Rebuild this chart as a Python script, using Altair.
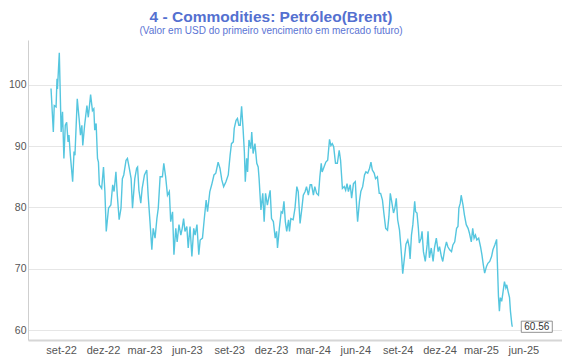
import altair as alt
import pandas as pd

# ---- data ----
dates = [
    "2022-08-10", "2022-08-15", "2022-08-17", "2022-08-21", "2022-08-23", "2022-08-24", "2022-08-28",
    "2022-09-01", "2022-09-04", "2022-09-07", "2022-09-10", "2022-09-13", "2022-09-16", "2022-09-18",
    "2022-09-21", "2022-09-26", "2022-09-29", "2022-10-01", "2022-10-06", "2022-10-10", "2022-10-13",
    "2022-10-16", "2022-10-18", "2022-10-22", "2022-10-27", "2022-10-30", "2022-11-04", "2022-11-08",
    "2022-11-11", "2022-11-13", "2022-11-16", "2022-11-19", "2022-11-21", "2022-11-23", "2022-11-28",
    "2022-12-02", "2022-12-05", "2022-12-08", "2022-12-13", "2022-12-18", "2022-12-22", "2022-12-25",
    "2022-12-29", "2023-01-01", "2023-01-05", "2023-01-09", "2023-01-12", "2023-01-15", "2023-01-20",
    "2023-01-23", "2023-01-27", "2023-01-31", "2023-02-03", "2023-02-08", "2023-02-12", "2023-02-14",
    "2023-02-17", "2023-02-21", "2023-02-24", "2023-03-01", "2023-03-06", "2023-03-09", "2023-03-13",
    "2023-03-17", "2023-03-20", "2023-03-24", "2023-03-28", "2023-03-31", "2023-04-04", "2023-04-09",
    "2023-04-12", "2023-04-16", "2023-04-20", "2023-04-24", "2023-04-27", "2023-05-01", "2023-05-04",
    "2023-05-08", "2023-05-11", "2023-05-15", "2023-05-19", "2023-05-22", "2023-05-25", "2023-05-28",
    "2023-06-01", "2023-06-04", "2023-06-08", "2023-06-12", "2023-06-16", "2023-06-19", "2023-06-23",
    "2023-06-27", "2023-06-30", "2023-07-05", "2023-07-09", "2023-07-13", "2023-07-16", "2023-07-21",
    "2023-07-25", "2023-07-30", "2023-08-03", "2023-08-08", "2023-08-12", "2023-08-16", "2023-08-20",
    "2023-08-25", "2023-08-30", "2023-09-03", "2023-09-06", "2023-09-10", "2023-09-12", "2023-09-16",
    "2023-09-19", "2023-09-22", "2023-09-25", "2023-09-28", "2023-10-01", "2023-10-04", "2023-10-06",
    "2023-10-09", "2023-10-11", "2023-10-14", "2023-10-18", "2023-10-20", "2023-10-23", "2023-10-27",
    "2023-10-31", "2023-11-03", "2023-11-05", "2023-11-09", "2023-11-13", "2023-11-16", "2023-11-19",
    "2023-11-23", "2023-11-27", "2023-11-29", "2023-12-02", "2023-12-06", "2023-12-10", "2023-12-13",
    "2023-12-15", "2023-12-19", "2023-12-23", "2023-12-26", "2023-12-29", "2024-01-01", "2024-01-04",
    "2024-01-08", "2024-01-10", "2024-01-13", "2024-01-18", "2024-01-22", "2024-01-26", "2024-01-29",
    "2024-02-02", "2024-02-06", "2024-02-09", "2024-02-13", "2024-02-16", "2024-02-20", "2024-02-24",
    "2024-02-27", "2024-03-02", "2024-03-05", "2024-03-09", "2024-03-13", "2024-03-16", "2024-03-19",
    "2024-03-21", "2024-03-25", "2024-03-29", "2024-04-02", "2024-04-06", "2024-04-09", "2024-04-12",
    "2024-04-15", "2024-04-19", "2024-04-23", "2024-04-27", "2024-04-30", "2024-05-04", "2024-05-08",
    "2024-05-11", "2024-05-14", "2024-05-17", "2024-05-21", "2024-05-24", "2024-05-28", "2024-06-01",
    "2024-06-04", "2024-06-06", "2024-06-10", "2024-06-13", "2024-06-17", "2024-06-21", "2024-06-24",
    "2024-06-28", "2024-07-02", "2024-07-05", "2024-07-08", "2024-07-12", "2024-07-15", "2024-07-19",
    "2024-07-23", "2024-07-26", "2024-07-30", "2024-08-02", "2024-08-06", "2024-08-10", "2024-08-13",
    "2024-08-16", "2024-08-19", "2024-08-23", "2024-08-26", "2024-08-29", "2024-09-01", "2024-09-05",
    "2024-09-08", "2024-09-10", "2024-09-12", "2024-09-16", "2024-09-19", "2024-09-23", "2024-09-26",
    "2024-09-28", "2024-10-01", "2024-10-04", "2024-10-08", "2024-10-10", "2024-10-13", "2024-10-16",
    "2024-10-18", "2024-10-22", "2024-10-24", "2024-10-27", "2024-10-31", "2024-11-04", "2024-11-06",
    "2024-11-09", "2024-11-13", "2024-11-17", "2024-11-20", "2024-11-24", "2024-11-28", "2024-12-01",
    "2024-12-05", "2024-12-08", "2024-12-12", "2024-12-16", "2024-12-19", "2024-12-23", "2024-12-27",
    "2024-12-30", "2025-01-03", "2025-01-07", "2025-01-10", "2025-01-12", "2025-01-15", "2025-01-17",
    "2025-01-21", "2025-01-24", "2025-01-28", "2025-02-01", "2025-02-04", "2025-02-08", "2025-02-11",
    "2025-02-14", "2025-02-17", "2025-02-20", "2025-02-24", "2025-02-28", "2025-03-03", "2025-03-06",
    "2025-03-09", "2025-03-13", "2025-03-16", "2025-03-20", "2025-03-24", "2025-03-27", "2025-03-31",
    "2025-04-04", "2025-04-06", "2025-04-08", "2025-04-10", "2025-04-12", "2025-04-15", "2025-04-18",
    "2025-04-21", "2025-04-24", "2025-04-26", "2025-04-29", "2025-05-02", "2025-05-04", "2025-05-07",
    "2025-05-08",
]

values = [
    99.4, 92.3, 96.6, 96.4, 101.0, 99.3, 105.2,
    92.3, 95.6, 88.0, 93.4, 93.9, 90.7, 91.8,
    88.5, 84.2, 89.1, 88.5, 97.7, 94.5, 91.8,
    93.4, 90.1, 93.4, 96.6, 94.7, 98.4, 95.8,
    96.1, 92.6, 93.7, 88.0, 87.4, 83.7, 83.1,
    86.6, 82.6, 76.1, 79.9, 80.4, 83.7, 82.6,
    85.8, 82.0, 78.0, 79.9, 84.7, 85.3, 87.7,
    88.0, 86.4, 84.7, 79.9, 84.7, 86.4, 86.6,
    82.8, 80.7, 83.1, 85.3, 86.1, 82.0, 77.7,
    73.1, 76.6, 75.0, 78.2, 79.9, 85.0, 85.0,
    87.2, 85.0, 82.0, 82.6, 77.7, 79.3, 72.3,
    76.6, 74.4, 77.2, 75.5, 76.6, 78.2, 76.1,
    76.9, 73.4, 76.9, 72.0, 76.6, 75.5, 77.2,
    72.3, 74.7, 75.0, 78.2, 81.2, 79.3, 82.6,
    83.7, 85.3, 85.6, 87.4, 86.4, 84.5, 83.4,
    84.2, 85.3, 88.5, 90.4, 90.7, 92.9, 94.2,
    94.5, 93.4, 93.4, 96.5, 93.1, 89.1, 84.2,
    88.0, 85.8, 91.0, 89.6, 92.3, 88.8, 90.4,
    87.2, 86.6, 84.7, 79.6, 82.3, 77.7, 82.3,
    80.4, 82.0, 82.8, 78.2, 77.7, 75.0, 76.1,
    73.4, 76.6, 79.3, 79.1, 81.0, 77.7, 76.1,
    78.0, 76.1, 78.2, 78.0, 79.9, 83.4, 82.6,
    77.4, 79.9, 82.0, 82.6, 83.4, 82.0, 83.7,
    83.7, 82.0, 83.4, 82.3, 82.0, 85.0, 87.2,
    85.8, 86.6, 87.4, 87.7, 91.1, 90.1, 90.4,
    89.9, 87.2, 87.2, 89.3, 87.7, 83.1, 83.4,
    82.8, 83.9, 82.6, 83.7, 81.5, 83.9, 84.2,
    80.1, 77.7, 81.0, 82.6, 83.4, 85.3, 85.8,
    85.6, 86.4, 87.4, 86.1, 85.6, 84.7, 85.0,
    82.3, 82.3, 81.2, 79.1, 76.6, 76.3, 78.5,
    82.3, 81.0, 79.1, 79.9, 81.5, 78.0, 76.3,
    73.6, 71.5, 69.2, 72.0, 74.0, 74.7, 73.6,
    71.6, 75.5, 77.2, 81.0, 79.3, 79.1, 76.6,
    74.2, 75.0, 76.1, 72.8, 71.2, 73.9, 76.1,
    71.8, 73.4, 71.2, 73.4, 75.0, 72.8, 73.6,
    72.0, 71.2, 73.1, 74.4, 73.6, 73.1, 72.8,
    73.9, 74.4, 76.6, 76.9, 79.9, 80.7, 82.0,
    80.4, 78.8, 77.2, 76.6, 75.8, 74.4, 76.6,
    75.0, 75.5, 74.7, 75.0, 73.6, 72.3, 70.7,
    69.3, 70.4, 70.9, 71.2, 72.0, 73.1, 73.9,
    74.8, 70.1, 65.5, 63.1, 65.3, 64.7, 66.3,
    67.9, 66.9, 67.4, 66.3, 65.3, 63.1, 61.0,
    60.56,
]

x_ticks = ["2022-09-01", "2022-12-01", "2023-03-01", "2023-06-01", "2023-09-01", "2023-12-01",
           "2024-03-01", "2024-06-01", "2024-09-01", "2024-12-01", "2025-03-01", "2025-06-01"]
x_domain = ["2022-06-21", "2025-08-24"]
y_ticks = [60, 65, 70, 75, 80, 85, 90, 95, 100, 105]
y_domain = [58.4, 107.3]

title_text = "4 - Commodities: Petróleo(Brent)"
subtitle_text = "(Valor em USD do primeiro vencimento em mercado futuro)"


def dt(s):
    return alt.DateTime(year=int(s[:4]), month=int(s[5:7]), date=int(s[8:10]), utc=True)


df = pd.DataFrame({"data": dates, "valor": values})
last = pd.DataFrame({"data": [dates[-1]], "valor": [values[-1]], "rotulo": [f"{values[-1]:.2f}"]})

month_expr = ("['jan','fev','mar','abr','mai','jun','jul','ago','set','out','nov','dez']"
              "[utcmonth(datum.value)] + '-' + utcFormat(datum.value, '%y')")

x_enc = alt.X(
    "data:T",
    scale=alt.Scale(type="utc", domain=[dt(x_domain[0]), dt(x_domain[1])]),
    axis=alt.Axis(
        values=[dt(s) for s in x_ticks],
        labelExpr=month_expr,
        grid=False,
        ticks=False,
        domain=True,
        domainColor="#d6d6d6",
        domainWidth=2,
        labelColor="#555555",
        labelFontSize=11,
        labelPadding=4,
        labelFlush=False,
        labelOverlap=False,
        title=None,
    ),
)

y_enc = alt.Y(
    "valor:Q",
    scale=alt.Scale(domain=y_domain, nice=False, zero=False),
    axis=alt.Axis(
        values=y_ticks,
        labelExpr="datum.value % 10 == 0 ? datum.label : ''",
        grid=True,
        gridColor=alt.condition("datum.value % 10 == 0", alt.value("#e6e6e6"), alt.value("#f1f1f1")),
        ticks=False,
        domain=True,
        domainColor="#cfcfcf",
        labelColor="#555555",
        labelFontSize=10.5,
        labelPadding=2,
        title=None,
    ),
)

line = alt.Chart(df).mark_line(color="#55c6df", strokeWidth=1.4).encode(x=x_enc, y=y_enc)

box = alt.Chart(last).mark_point(
    shape="M-1,-0.36H1V0.36H-1Z", size=961, filled=True, fill="white", stroke="#777777",
    strokeWidth=0.8, opacity=1, xOffset=24.5,
).encode(x="data:T", y="valor:Q")

label = alt.Chart(last).mark_text(
    fontSize=10, color="#333333", dx=24.5, align="center", baseline="middle",
).encode(x="data:T", y="valor:Q", text="rotulo:N")

chart = alt.layer(line, box, label).properties(
    width=534,
    height=300,
    autosize=alt.AutoSizeParams(type="none"),
    padding={"left": 20, "top": 32, "right": 0, "bottom": 20},
    title=alt.TitleParams(
        text=title_text,
        subtitle=subtitle_text,
        anchor="middle",
        frame="group",
        dx=-24,
        offset=4,
        fontSize=15.5,
        fontWeight="bold",
        color="#5470d0",
        subtitleFontSize=10,
        subtitleColor="#5b74d4",
        subtitlePadding=1,
        font="Liberation Sans",
        subtitleFont="Liberation Sans",
    ),
).configure(font="Liberation Sans").configure_view(stroke=None)

chart.save("out.html", embed_options={"renderer": "svg", "actions": False})
